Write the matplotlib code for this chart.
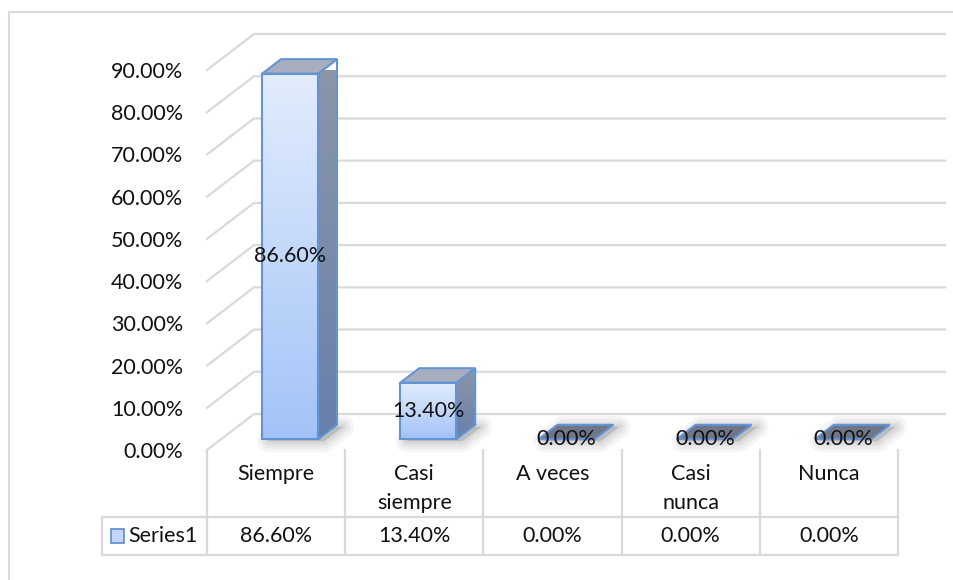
import matplotlib
matplotlib.use("Agg")
import matplotlib.pyplot as plt
import numpy as np
from matplotlib.patches import Polygon, Rectangle
from matplotlib.transforms import Affine2D, IdentityTransform, blended_transform_factory
from matplotlib.lines import Line2D
from matplotlib.colors import LinearSegmentedColormap

# ---------------- data ----------------
categories = ["Siempre", "Casi\nsiempre", "A veces", "Casi\nnunca", "Nunca"]
values = [86.60, 13.40, 0.00, 0.00, 0.00]
series_name = "Series1"
y_ticks = [0, 10, 20, 30, 40, 50, 60, 70, 80, 90]
y_ticklabels = [f"{t:.2f}%" for t in y_ticks]

# ---------------- style ----------------
FONT = ["Lato", "DejaVu Sans"]
FS = 15.5
TXT = "#111111"
GRID = "#D9D9D9"
EDGE = "#6394D6"
plt.rcParams["font.family"] = FONT

W, H = 954, 580
fig = plt.figure(figsize=(W / 100, H / 100), dpi=100)
fig.patch.set_facecolor("white")


def fx(px):
    return px / W


def fy(py):
    return 1 - py / H


ax = fig.add_axes([fx(207), fy(450), fx(898) - fx(207), fy(70) - fy(450)])
ax.set_xlim(-0.5, len(categories) - 0.5)
ax.set_ylim(0, 90)
ax.set_autoscale_on(False)
ax.patch.set_visible(False)
for s in ax.spines.values():
    s.set_visible(False)
ax.set_xticks([])
ax.set_yticks(y_ticks, labels=y_ticklabels)
ax.tick_params(axis="y", length=0, pad=17, labelsize=FS, labelcolor=TXT)

DX, DY = 47, 36      # depth offset of the 3D floor (display px)
BW = 0.405
D0, D1 = 0.3, 0.7


def P(x, v, d):
    X, Y = ax.transData.transform((x, v))
    return (X + DX * d, Y + DY * d)


ID = IdentityTransform()
xl, xr = ax.get_xlim()

# gridlines (side wall diagonals + back wall)
for t in y_ticks:
    a, b, c = P(xl, t, 0), P(xl, t, 1), P(xr, t, 1)
    ax.add_line(Line2D([a[0], b[0], c[0]], [a[1], b[1], c[1]], color=GRID,
                       lw=1.6, transform=ID, clip_on=False, zorder=1))

grad = np.linspace(0, 1, 256).reshape(-1, 1)
front_cmap = LinearSegmentedColormap.from_list("f", ["#E2EDFD", "#A3C3F7"])
side_cmap = LinearSegmentedColormap.from_list("s", ["#8C96A8", "#687FAC"])

for i, v in enumerate(values):
    x0, x1 = i - BW / 2, i + BW / 2
    # soft shadow around footprint
    foot = [P(x0, 0, D0), P(x1, 0, D0), P(x1, 0, D1), P(x0, 0, D1)]
    foot_s = [(px + 6, py - 2) for px, py in foot]
    for lw in [16, 11, 7, 4]:
        ax.add_patch(Polygon(foot_s, closed=True, facecolor=(0.25, 0.25, 0.25, 0.05),
                             edgecolor=(0.25, 0.25, 0.25, 0.05), lw=lw, joinstyle="round",
                             transform=ID, clip_on=False, zorder=2))
    top = [P(x0, v, D0), P(x1, v, D0), P(x1, v, D1), P(x0, v, D1)]
    if v > 0:
        front = [P(x0, 0, D0), P(x1, 0, D0), P(x1, v, D0), P(x0, v, D0)]
        side = [P(x1, 0, D0), P(x1, 0, D1), P(x1, v, D1), P(x1, v, D0)]
        sp = Polygon(side, closed=True, facecolor="none", edgecolor=EDGE, lw=1.5,
                     transform=ID, clip_on=False, zorder=4)
        ax.add_patch(sp)
        im = ax.imshow(grad, cmap=side_cmap, aspect="auto", interpolation="bilinear",
                       extent=(side[0][0], side[1][0], side[0][1], side[2][1]),
                       origin="upper", transform=ID, zorder=3, clip_on=True)
        im.set_clip_path(sp)
        fp = Polygon(front, closed=True, facecolor="none", edgecolor=EDGE, lw=1.5,
                     transform=ID, clip_on=False, zorder=6)
        ax.add_patch(fp)
        im2 = ax.imshow(grad, cmap=front_cmap, aspect="auto", interpolation="bilinear",
                        extent=(front[0][0], front[1][0], front[0][1], front[2][1]),
                        origin="upper", transform=ID, zorder=5, clip_on=True)
        im2.set_clip_path(fp)
        ax.add_patch(Polygon(top, closed=True, facecolor="#A7AFBE", edgecolor=EDGE, lw=1.5,
                             transform=ID, clip_on=False, zorder=6))
    else:
        ax.add_patch(Polygon(top, closed=True, facecolor="#6F7687", edgecolor=EDGE, lw=1.5,
                             transform=ID, clip_on=False, zorder=6))
    ax.text(i, v / 2, f"{v:.2f}%", ha="center", va="center", fontsize=FS, color=TXT,
            transform=ax.transData + Affine2D().translate(DX * D0, DY * D0),
            zorder=10, clip_on=False)

ax.set_xlim(xl, xr)
ax.set_ylim(0, 90)

# ---------------- data table ----------------
bt = blended_transform_factory(ax.transData, fig.transFigure)
TL = dict(color=GRID, lw=1.6, clip_on=False, zorder=1)
for k in range(len(categories) + 1):
    xk = xl + k
    ax.add_line(Line2D([xk, xk], [fy(450), fy(555)], transform=bt, **TL))
for yy in (517, 555):
    fig.add_artist(Line2D([fx(102), fx(207)], [fy(yy), fy(yy)], transform=fig.transFigure, color=GRID, lw=1.6))
    ax.add_line(Line2D([xl, xr], [fy(yy), fy(yy)], transform=bt, **TL))
fig.add_artist(Line2D([fx(102), fx(102)], [fy(517), fy(555)], transform=fig.transFigure, color=GRID, lw=1.6))

for i, cat in enumerate(categories):
    for k, line in enumerate(cat.split("\n")):
        ax.text(i, fy(474 + 29 * k), line, ha="center", va="center", fontsize=FS,
                color=TXT, transform=bt, clip_on=False)
    ax.text(i, fy(536), f"{values[i]:.2f}%", ha="center", va="center", fontsize=FS,
            color=TXT, transform=bt, clip_on=False)

# legend key
fig.add_artist(Rectangle((fx(111), fy(543)), fx(124) - fx(111), fy(529) - fy(543),
                         facecolor="#C3D8F8", edgecolor="#5B8BD0", lw=1.2,
                         transform=fig.transFigure))
fig.text(fx(128), fy(536), series_name, ha="left", va="center", fontsize=FS, color=TXT)

# chart border
fig.add_artist(Line2D([fx(9), fx(9), fx(954)], [fy(580), fy(12), fy(12)],
                      transform=fig.transFigure, color=GRID, lw=1.5))

fig.savefig("out.png", dpi=100, facecolor="white")
